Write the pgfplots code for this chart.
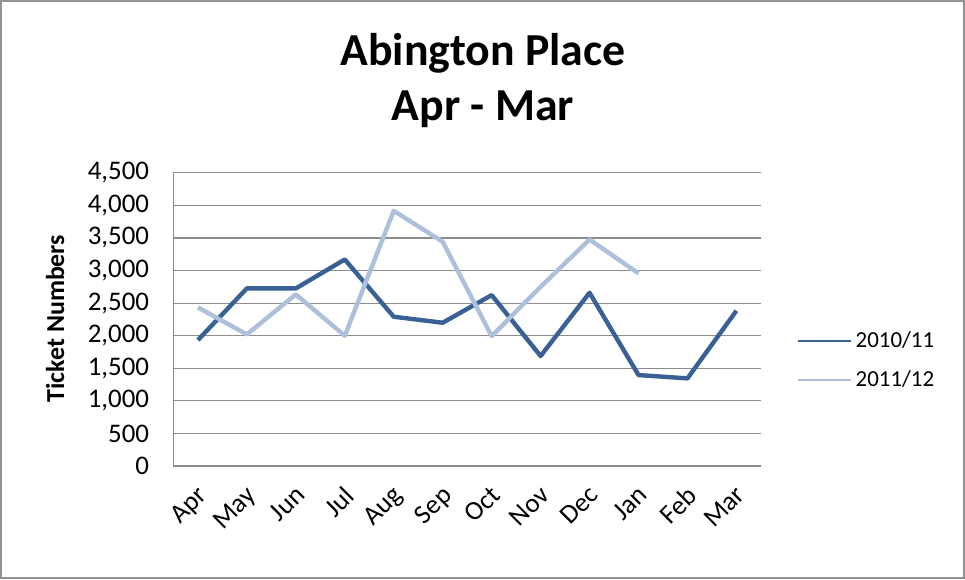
\documentclass[border=0pt]{standalone}
\usepackage{pgfplots}
\usepackage{fontspec}
\setmainfont{Carlito}
\pgfplotsset{compat=1.18}
\definecolor{darkblue}{HTML}{3A6195}
\definecolor{lightblue}{HTML}{ADC0DB}
\definecolor{gridgray}{HTML}{8C8C8C}

\begin{document}
\begin{tikzpicture}
% outer chart frame
\draw[gray!85, line width=1.2bp] (0.5bp,0.5bp) rectangle (482bp,289bp);
\node[anchor=base, font=\bfseries\fontsize{23}{27}\selectfont] at (241.5bp,257bp) {Abington Place};
\node[anchor=base, font=\bfseries\fontsize{23}{27}\selectfont] at (241.5bp,229.5bp) {Apr - Mar};
\node[rotate=90, font=\bfseries\fontsize{13}{15}\selectfont] at (27.5bp,130.25bp) {Ticket Numbers};

\begin{axis}[
    at={(86.65bp,56.5bp)},
    anchor=south west,
    scale only axis,
    width=293.85bp,
    height=146.65bp,
    xmin=-0.5, xmax=11.5,
    ymin=0, ymax=4500,
    ytick={0,500,...,4500},
    xtick={0,...,11},
    xticklabels={Apr,May,Jun,Jul,Aug,Sep,Oct,Nov,Dec,Jan,Feb,Mar},
    scaled y ticks=false,
    /pgf/number format/.cd, 1000 sep={,}, assume math mode=true,
    /pgfplots/.cd,
    axis x line*=bottom,
    axis y line*=left,
    axis line style={draw=gridgray, line width=0.6bp},
    ymajorgrids=true,
    grid style={draw=gridgray, line width=0.6bp},
    major tick length=0pt,
    tick label style={font=\fontsize{13.5}{15}\selectfont},
    yticklabel style={inner sep=0pt, xshift=-12bp},
    xticklabel style={inner sep=0pt, xshift=-1bp, yshift=-9bp, rotate=45, anchor=north east},
    legend style={draw=none, fill=none, font=\fontsize{11.5}{13}\selectfont,
        at={(1.06,0.36)}, anchor=west, row sep=6bp, inner sep=0pt},
    legend cell align=left,
    legend image code/.code={\draw[#1, line width=1.1bp] (0bp,0bp) -- (26.5bp,0bp);},
]
\addplot[color=darkblue, line width=2.2bp, line join=round] coordinates {
    (0,1933) (1,2726) (2,2726) (3,3170) (4,2291) (5,2199)
    (6,2623) (7,1688) (8,2659) (9,1396) (10,1345) (11,2383)
};
\addlegendentry{2010/11}
\addplot[color=lightblue, line width=2.2bp, line join=round] coordinates {
    (0,2434) (1,2020) (2,2634) (3,1999) (4,3917) (5,3441)
    (6,1994) (7,2750) (8,3477) (9,2956)
};
\addlegendentry{2011/12}
\end{axis}
\end{tikzpicture}
\end{document}
